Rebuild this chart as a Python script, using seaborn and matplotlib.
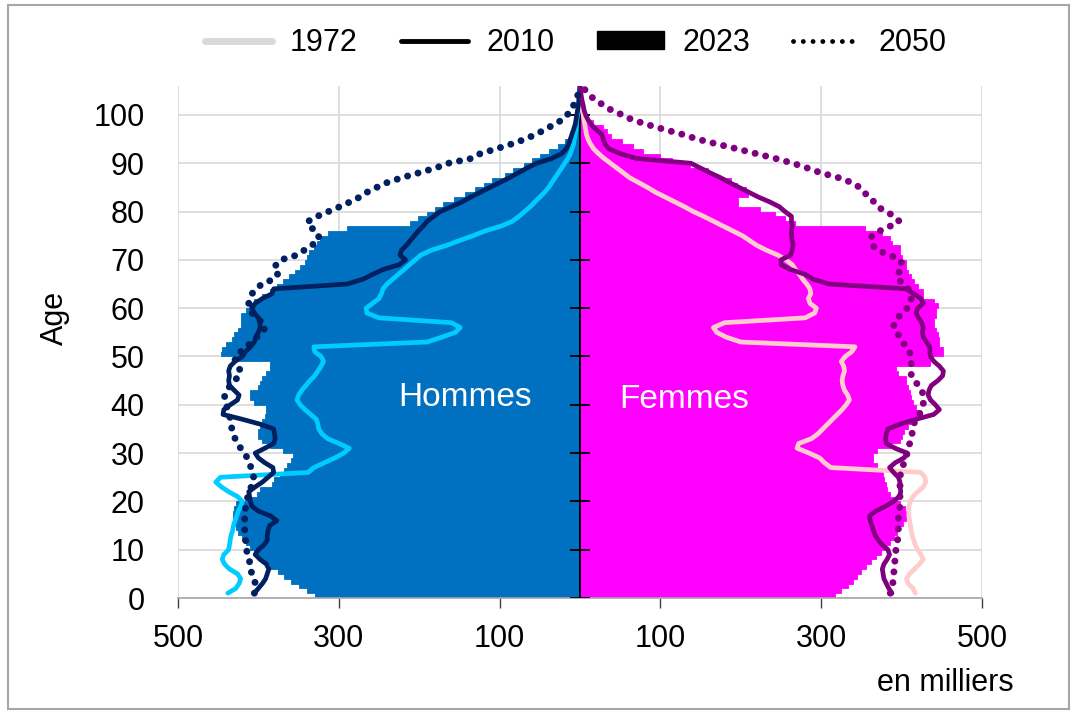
import numpy as np
import matplotlib.pyplot as plt
import seaborn as sns
from matplotlib.lines import Line2D
from matplotlib.patches import Patch, Rectangle

# ── Style ────────────────────────────────────────────────────
sns.set_theme(style="white")
plt.rcParams["font.family"] = ["Liberation Sans", "DejaVu Sans"]
plt.rcParams.update({"text.color": "black", "xtick.labelcolor": "black",
                     "ytick.labelcolor": "black"})

MEN_BAR   = "#0070C0"
WOMEN_BAR = "#FF00FF"
MEN_72    = "#00CCFF"
WOMEN_72  = "#FFCCCC"
MEN_10    = "#002060"
WOMEN_10  = "#800080"
GRID      = "#D9D9D9"

# ── Data (thousands, age 0..105) ─────────────────────────────
ages = np.arange(106)

men_2023 = [330, 340, 350, 360, 368, 376, 385, 393, 400, 405,
            410, 415, 420, 425, 428, 430, 432, 432, 430, 428,
            410, 402, 398, 383, 380, 373, 368, 365, 360, 357,
            370, 385, 395, 400, 400, 398, 396, 392, 390, 390,
            405, 410, 410, 400, 398, 395, 390, 385, 385, 430,
            447, 445, 440, 433, 430, 425, 422, 422, 422, 416,
            412, 405, 395, 385, 377, 370, 362, 354, 348, 342,
            339, 337, 331, 327, 323, 313, 290, 211, 201, 190,
            180, 170, 157, 143, 130, 120, 110, 93, 83, 70,
            60, 50, 39, 27, 19, 12, 9, 6, 4, 2.5,
            1.5, 1, 0.6, 0.3, 0.2, 0.1]

women_2023 = [317, 325, 333, 339, 344, 350, 356, 362, 368, 374,
              380, 386, 390, 394, 398, 402, 405, 406, 404, 398,
              390, 385, 382, 380, 378, 377, 375, 370, 364, 364,
              370, 385, 398, 401, 403, 408, 415, 420, 422, 418,
              414, 412, 410, 408, 406, 405, 395, 393, 435, 435,
              451, 451, 447, 447, 445, 443, 440, 440, 443, 443,
              445, 440, 426, 426, 420, 415, 412, 408, 406, 406,
              400, 398, 398, 388, 385, 375, 354, 267, 255, 242,
              224, 196, 196, 209, 207, 195, 188, 168, 159, 137,
              114, 99, 78, 66, 52, 39, 33, 28, 16, 10,
              6, 4, 2, 1, 0.5, 0.2]

men_1972 = [438, 428, 424, 422, 426, 436, 442, 445, 443, 437,
            436, 435, 434, 432, 431, 429, 427, 425, 422, 420,
            426, 437, 446, 453, 447, 338, 331, 318, 305, 294,
            287, 300, 314, 321, 325, 326, 328, 335, 342, 348,
            352, 350, 346, 341, 336, 330, 326, 322, 319, 322,
            330, 331, 190, 172, 155, 149, 160, 250, 265, 266,
            258, 250, 247, 245, 240, 233, 226, 219, 212, 205,
            198, 185, 166, 150, 133, 118, 98, 84, 76, 69,
            62, 56, 50, 44, 39, 35, 31, 27, 23, 19,
            15, 12, 10, 8, 7, 6, 5, 4.5, 4, 3,
            2, 1.5, 1, 0.5, 0.3, 0]

women_1972 = [417, 414, 408, 406, 410, 416, 422, 427, 424, 420,
              417, 415, 413, 412, 411, 410, 409, 409, 409, 411,
              414, 420, 427, 430, 429, 424, 312, 304, 298, 285,
              270, 272, 288, 296, 302, 308, 314, 320, 326, 331,
              335, 333, 329, 327, 326, 327, 329, 328, 325, 330,
              338, 342, 200, 182, 170, 166, 180, 280, 292, 294,
              286, 284, 287, 286, 282, 277, 273, 268, 264, 256,
              246, 232, 220, 211, 202, 190, 178, 166, 154, 141,
              130, 118, 106, 94, 84, 73, 62, 54, 46, 38,
              30, 23, 17, 13, 10, 8, 7, 6, 5, 4,
              3, 2, 1.5, 1, 0.5, 0]

men_2010 = [405, 400, 395, 391, 389, 387, 390, 398, 404, 400,
            393, 389, 389, 388, 386, 377, 385, 400, 408, 410,
            411, 412, 404, 395, 388, 381, 382, 392, 400, 404,
            392, 381, 379, 380, 381, 398, 420, 444, 443, 435,
            426, 424, 430, 436, 437, 436, 437, 435, 429, 420,
            416, 410, 405, 403, 400, 398, 398, 400, 405, 408,
            404, 395, 383, 381, 290, 270, 258, 245, 225, 217,
            224, 222, 216, 211, 206, 201, 195, 190, 182, 174,
            160, 147, 136, 124, 112, 100, 88, 77, 66, 54,
            35, 23, 17, 14, 12, 10, 8, 6, 5, 4,
            3, 2, 1.5, 1, 0.5, 0]

women_2010 = [388, 384, 381, 378, 377, 376, 378, 382, 385, 383,
              376, 371, 367, 365, 363, 361, 360, 368, 380, 390,
              397, 399, 398, 398, 396, 390, 385, 392, 403, 407,
              392, 381, 380, 381, 383, 398, 418, 440, 447, 442,
              436, 433, 434, 437, 445, 451, 452, 447, 440, 436,
              435, 435, 431, 427, 426, 427, 425, 421, 418, 420,
              427, 424, 415, 406, 310, 290, 280, 262, 250, 250,
              262, 264, 265, 264, 263, 263, 264, 263, 263, 255,
              248, 236, 222, 210, 198, 186, 175, 162, 150, 138,
              70, 50, 36, 31, 29, 27, 20, 14, 10, 7,
              5, 4, 2.5, 1.5, 0.8, 0]

men_2050 = [405, 404, 404, 405, 408, 410, 411, 411, 413, 415,
            415, 416, 417, 417, 417, 417, 417, 416, 416, 415,
            413, 411, 409, 407, 406, 407, 409, 412, 414, 417,
            422, 426, 429, 431, 433, 434, 435, 436, 438, 440,
            442, 442, 439, 435, 429, 425, 422, 426, 429, 429,
            422, 415, 408, 402, 396, 391, 395, 402, 408, 411,
            412, 410, 408, 402, 396, 381, 376, 381, 378, 372,
            352, 343, 334, 325, 325, 328, 338, 338, 327, 313,
            299, 286, 274, 265, 253, 240, 222, 201, 180, 164,
            135, 124, 104, 85, 68, 55, 43, 33, 22, 16,
            11, 8, 6, 3, 1, 0]

women_2050 = [386, 388, 389, 390, 390, 391, 391, 392, 392, 393,
              394, 395, 396, 396, 396, 396, 396, 397, 398, 398,
              398, 398, 398, 398, 398, 399, 401, 403, 405, 407,
              409, 410, 411, 413, 414, 415, 418, 422, 425, 427,
              427, 427, 425, 421, 416, 412, 412, 412, 412, 411,
              410, 406, 401, 398, 394, 390, 391, 395, 401, 407,
              411, 412, 411, 408, 403, 395, 395, 399, 401, 398,
              385, 370, 364, 362, 363, 373, 386, 397, 391, 381,
              370, 366, 358, 354, 348, 338, 322, 300, 283, 265,
              243, 219, 195, 170, 146, 127, 105, 84, 65, 53,
              39, 30, 19, 13, 8, 0]

x_ticks = [-500, -300, -100, 100, 300, 500]
x_labels = ["500", "300", "100", "100", "300", "500"]
y_ticks = list(range(0, 101, 10))

# ── Figure ───────────────────────────────────────────────────
fig = plt.figure(figsize=(10.76, 7.14), dpi=100)
ax = fig.add_axes([178 / 1076, 1 - 598 / 714, 804 / 1076, 512 / 714])
ax.set_axisbelow(True)

# 2023 bars (one bar per year of age)
bar_y = ages + 0.5
sns.barplot(x=-np.array(men_2023), y=bar_y, orient="h", native_scale=True,
            width=1, color=MEN_BAR, saturation=1, errorbar=None,
            linewidth=0.6, edgecolor=MEN_BAR, ax=ax)
sns.barplot(x=np.array(women_2023), y=bar_y, orient="h", native_scale=True,
            width=1, color=WOMEN_BAR, saturation=1, errorbar=None,
            linewidth=0.6, edgecolor=WOMEN_BAR, ax=ax)

# centre axis with tick marks
ax.axvline(0, color="black", lw=1.3, zorder=3)
ax.hlines(y_ticks, -12, 12, color="black", lw=1.3, zorder=3)

# lines 1972 / 2010 / 2050
line_y = ages + 1
solid = dict(lw=3.4)
dots = dict(linestyle=(0, (0.01, 1.55)), dash_capstyle="round", lw=5.0)
series = [
    (men_1972, -1, MEN_72, solid),
    (women_1972, 1, WOMEN_72, solid),
    (men_2010, -1, MEN_10, solid),
    (women_2010, 1, WOMEN_10, solid),
    (men_2050, -1, MEN_10, dots),
    (women_2050, 1, WOMEN_10, dots),
]
for vals, sign, col, kw in series:
    sns.lineplot(x=sign * np.array(vals), y=line_y, orient="y", sort=False,
                 estimator=None, color=col, legend=False, ax=ax,
                 solid_capstyle="round", solid_joinstyle="round",
                 zorder=4, **kw)

# ── Axes cosmetics ───────────────────────────────────────────
ax.set_xlim(-500, 500)
ax.set_ylim(0, 106)
ax.set_xticks(x_ticks)
ax.set_xticklabels(x_labels)
ax.set_yticks(y_ticks)
ax.set_xlabel("")
ax.set_ylabel("")
ax.grid(True, color=GRID, lw=1.2)
for side in ["top", "left", "right"]:
    ax.spines[side].set_visible(False)
ax.spines["bottom"].set_color("#A6A6A6")
ax.spines["bottom"].set_linewidth(1.2)
ax.tick_params(axis="x", direction="out", length=7, width=1, color="#404040",
               labelsize=22, pad=12, bottom=True)
ax.tick_params(axis="y", length=0, labelsize=22, pad=24)

ax.text(-143, 41.5, "Hommes", color="white", fontsize=24,
        ha="center", va="center", zorder=5)
ax.text(130, 41, "Femmes", color="white", fontsize=24,
        ha="center", va="center", zorder=5)

fig.text(55 / 1076, 1 - 318 / 714, "Age", rotation=90, fontsize=22,
         ha="center", va="center")
fig.text(945 / 1076, 1 - 683 / 714, "en milliers", fontsize=22,
         ha="center", va="center")

# legend
handles = [
    Line2D([], [], color="#D9D9D9", lw=5),
    Line2D([], [], color="black", lw=3.5),
    Patch(facecolor="black", edgecolor="black"),
    Line2D([], [], color="black", linestyle=(0, (0.01, 2.0)),
           dash_capstyle="round", lw=3.5),
]
fig.legend(handles, ["1972", "2010", "2023", "2050"], loc="center",
           bbox_to_anchor=(0.535, 1 - 43 / 714), ncol=4, frameon=False,
           fontsize=22, handlelength=2.2, handleheight=0.5,
           columnspacing=1.4, handletextpad=0.6)

# chart border
fig.patches.append(Rectangle((8 / 1076, 5 / 714), 1061 / 1076, 704 / 714,
                             transform=fig.transFigure, fill=False,
                             edgecolor="#A6A6A6", lw=1.5))

fig.savefig("out.png", dpi=100)
